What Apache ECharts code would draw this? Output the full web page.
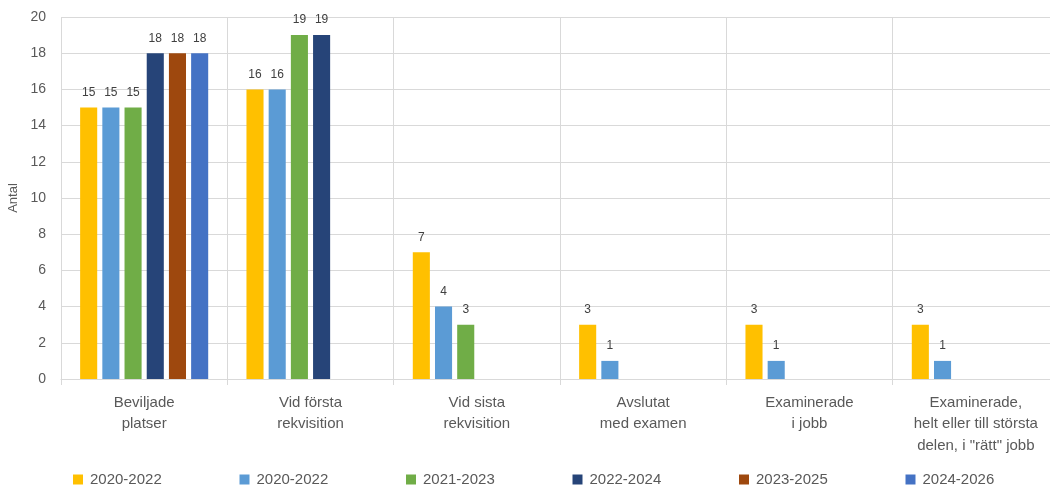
<!DOCTYPE html>
<html>
<head>
<meta charset="utf-8">
<script src="https://cdn.jsdelivr.net/npm/echarts@6/dist/echarts.min.js"></script>
<style>
  html, body { margin: 0; padding: 0; background: #fff; }
  #chart { width: 1050px; height: 488px; }
</style>
</head>
<body>
<div id="chart"></div>
<script>
// data
const categories = ['Beviljade\nplatser', 'Vid första\nrekvisition', 'Vid sista\nrekvisition',
  'Avslutat\nmed examen', 'Examinerade\ni jobb', 'Examinerade,\nhelt eller till största\ndelen, i "rätt" jobb'];
// the two 2020-2022 groups have the same label, the second name gets a trailing space
const seriesNames = ['2020-2022', '2020-2022 ', '2021-2023', '2022-2024', '2023-2025', '2024-2026'];
const s2020a = [15, 16, 7, 3, 3, 3];
const s2020b = [15, 16, 4, 1, 1, 1];
const s2021 = [15, 19, 3, null, null, null];
const s2022 = [18, 19, null, null, null, null];
const s2023 = [18, null, null, null, null, null];
const s2024 = [18, null, null, null, null, null];
const colors = ['#FFC000', '#5B9BD5', '#70AD47', '#264478', '#9E480E', '#4472C4'];

const values = [s2020a, s2020b, s2021, s2022, s2023, s2024];

let myChart = echarts.init(document.getElementById('chart'));
let option = {
  animation: false,
  textStyle: { fontFamily: 'Liberation Sans' },
  // plot runs past the right edge, like the cropped original
  grid: { left: 61, width: 998, top: 17, height: 362, outerBoundsMode: 'none', containLabel: false },
  legend: seriesNames.map((n, i) => ({
    data: [n],
    left: 73 + 166.5 * i,
    top: 472,
    padding: 0,
    icon: 'rect',
    itemWidth: 10,
    itemHeight: 10,
    itemGap: 0,
    formatter: name => name.trim(),
    textStyle: { color: '#595959', fontSize: 15, padding: [0, 0, 0, 2] }
  })),
  xAxis: {
    type: 'category',
    data: categories,
    axisLine: { lineStyle: { color: '#d9d9d9' } },
    axisTick: { show: true, length: 6, lineStyle: { color: '#d9d9d9' } },
    splitLine: { show: true, lineStyle: { color: '#d9d9d9' } },
    axisLabel: { color: '#595959', fontSize: 15, lineHeight: 21.5, margin: 13, interval: 0 }
  },
  yAxis: {
    type: 'value',
    min: 0,
    max: 20,
    interval: 2,
    name: 'Antal',
    nameLocation: 'middle',
    nameRotate: 90,
    nameGap: 31,
    nameTextStyle: { color: '#595959', fontSize: 13 },
    axisLine: { show: false },
    axisTick: { show: false },
    splitLine: { lineStyle: { color: '#d9d9d9' } },
    axisLabel: { color: '#595959', fontSize: 14, margin: 15 }
  },
  series: seriesNames.map((n, i) => ({
    name: n,
    type: 'bar',
    data: values[i],
    barGap: '30%',
    barCategoryGap: '23%',
    itemStyle: { color: colors[i] },
    label: {
      show: true,
      position: 'top',
      distance: 9,
      color: '#404040',
      fontSize: 12
    }
  }))
};
myChart.setOption(option);
</script>
</body>
</html>
